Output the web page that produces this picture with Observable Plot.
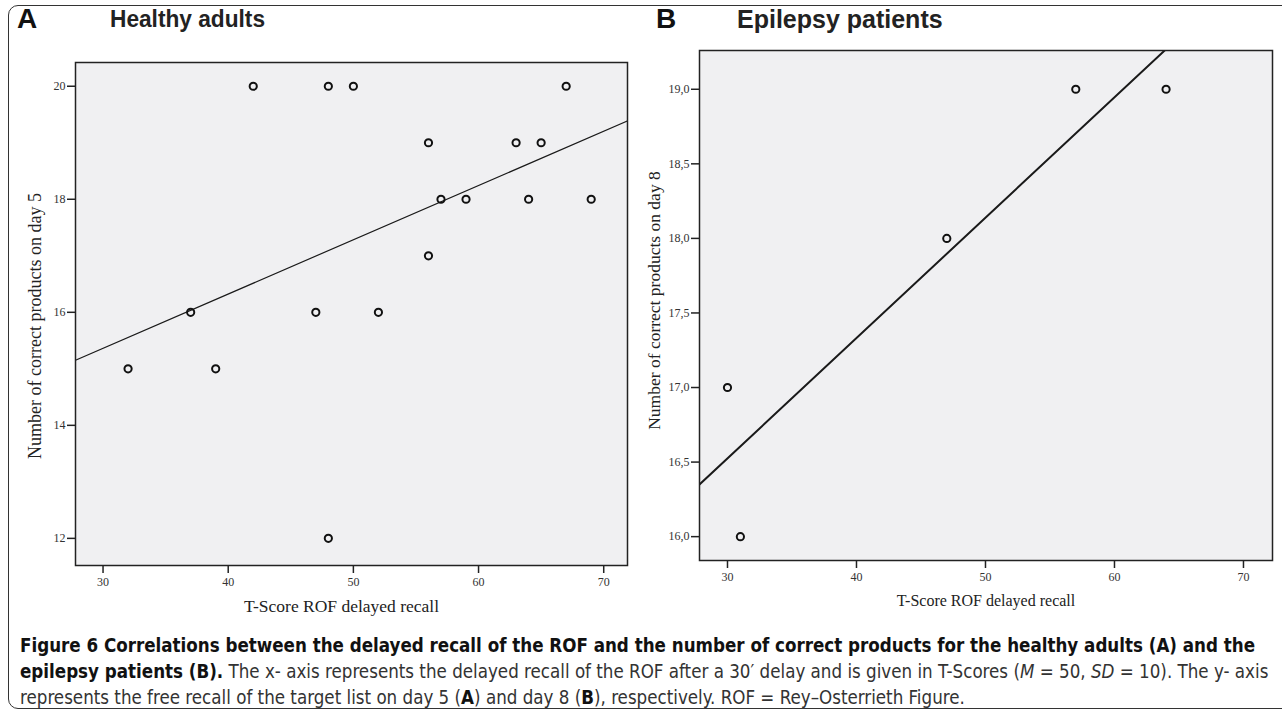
<!DOCTYPE html>
<html>
<head>
<meta charset="utf-8">
<script src="https://cdn.jsdelivr.net/npm/d3@7"></script>
<script src="https://cdn.jsdelivr.net/npm/@observablehq/plot@0.6"></script>
<style>
  html, body { margin: 0; padding: 0; background: #fff; }
  #fig { position: relative; width: 1282px; height: 713px; overflow: hidden; }
  #border { position: absolute; left: 8px; top: 5px; width: 1300px; height: 704px; border: 1.5px solid #333; border-radius: 10px; box-sizing: border-box; }
  .panel { position: absolute; top: 0; }
  .letter { position: absolute; font-family: "Liberation Sans", Arial, sans-serif; font-weight: bold; font-size: 28px; line-height: 28px; color: #111; }
  .ptitle { position: absolute; font-family: "Liberation Sans", Arial, sans-serif; font-weight: bold; font-size: 24px; line-height: 24px; color: #222; transform-origin: left center; white-space: nowrap; }
  #caption { position: absolute; left: 20px; top: 633px; font-family: "Liberation Sans Narrow", "DejaVu Sans Condensed", sans-serif; font-size: 18.6px; line-height: 26px; color: #333; white-space: nowrap; }
  #caption b { color: #111; }
</style>
</head>
<body>
<div id="fig">
  <div id="border"></div>
  <div class="panel" id="pA" style="left:0px"></div>
  <div class="panel" id="pB" style="left:640px"></div>
  <div class="letter" style="left:17px; top:5px">A</div>
  <div class="ptitle" style="left:110px; top:7px; transform: scaleX(0.945)">Healthy adults</div>
  <div class="letter" style="left:656px; top:5px">B</div>
  <div class="ptitle" style="left:737px; top:7px; font-size:25px; line-height:25px">Epilepsy patients</div>
  <div id="caption">
    <div><b>Figure 6 Correlations between the delayed recall of the ROF and the number of correct products for the healthy adults (A) and the</b></div>
    <div><b>epilepsy patients (B).</b> The x- axis represents the delayed recall of the ROF after a 30′ delay and is given in T-Scores (<i>M</i> = 50, <i>SD</i> = 10). The y- axis</div>
    <div>represents the free recall of the target list on day 5 (<b>A</b>) and day 8 (<b>B</b>), respectively. ROF = Rey–Osterrieth Figure.</div>
  </div>
</div>
<script>
// Panel A: healthy adults
const xA = [32, 37, 39, 42, 47, 48, 48, 50, 52, 56, 56, 57, 59, 63, 64, 65, 67, 69];
const yA = [15, 16, 15, 20, 16, 20, 12, 20, 16, 19, 17, 18, 18, 19, 18, 19, 20, 18];
const xTicks = [30, 40, 50, 60, 70];
const yTicksA = [12, 14, 16, 18, 20];
// Panel B: epilepsy patients
const xB = [30, 31, 47, 57, 64];
const yB = [17, 16, 18, 19, 19];
const yTicksB = [16.0, 16.5, 17.0, 17.5, 18.0, 18.5, 19.0];

const xLabel = "T-Score ROF delayed recall";
const yLabelA = "Number of correct products on day 5";
const yLabelB = "Number of correct products on day 8";

function regLine(xs, ys, domain) {
  const mx = d3.mean(xs), my = d3.mean(ys);
  const sxy = d3.sum(xs, (x, i) => (x - mx) * (ys[i] - my));
  const sxx = d3.sum(xs, x => (x - mx) ** 2);
  const b = sxy / sxx, a = my - b * mx;
  return domain.map(x => ({x, y: a + b * x}));
}

function panel(o) {
  const data = o.xs.map((x, i) => ({x, y: o.ys[i]}));
  const line = regLine(o.xs, o.ys, o.xDomain);
  return Plot.plot({
    width: o.width, height: 640,
    marginLeft: o.marginLeft, marginRight: o.marginRight, marginTop: o.marginTop, marginBottom: o.marginBottom,
    x: {domain: o.xDomain},
    y: {domain: o.yDomain},
    style: {fontFamily: "'Liberation Serif', 'Times New Roman', serif", fontSize: "12px", color: "#333", background: "transparent", overflow: "visible"},
    marks: [
      Plot.frame({fill: "#f0f0f2", stroke: null}),
      Plot.line(line, {x: "x", y: "y", stroke: "#1a1a1a", strokeWidth: o.lineWidth, clip: true}),
      Plot.dot(data, {x: "x", y: "y", r: 3.6, stroke: "#111", strokeWidth: 2, fill: "none"}),
      Plot.frame({stroke: "#222", strokeWidth: 1.5}),
      Plot.axisX({ticks: xTicks, tickSize: 8, tickPadding: 4, stroke: "#222", strokeWidth: 1.5, label: null, fill: "#333"}),
      Plot.axisY({ticks: o.yTicks, tickSize: 8, tickPadding: 2, tickFormat: o.yFormat, stroke: "#222", strokeWidth: 1.5, label: null, fill: "#333"}),
      Plot.text([xLabel], {frameAnchor: "bottom", dx: o.xLabelDx, dy: o.xLabelDy, fontSize: o.xLabelSize, fill: "#222"}),
      Plot.text([o.yLabel], {frameAnchor: "left", textAnchor: "middle", dx: o.yLabelDx, dy: o.yLabelDy, rotate: -90, fontSize: o.yLabelSize, fill: "#222"})
    ]
  });
}

document.getElementById("pA").appendChild(panel({
  xs: xA, ys: yA, xDomain: [27.8, 71.9], yDomain: [11.52, 20.42], yTicks: yTicksA,
  yFormat: d => String(d), yLabel: yLabelA, width: 640, marginLeft: 75, marginRight: 13, marginTop: 62, marginBottom: 75,
  yLabelDx: -40, yLabelDy: 12, yLabelSize: 18, xLabelDx: -10, xLabelDy: 46, xLabelSize: 17.5, lineWidth: 1.2
}));
document.getElementById("pB").appendChild(panel({
  xs: xB, ys: yB, xDomain: [27.83, 72.25], yDomain: [15.84, 19.26], yTicks: yTicksB,
  yFormat: d => d.toFixed(1).replace(".", ","), yLabel: yLabelB, width: 642, marginLeft: 59, marginRight: 10, marginTop: 50, marginBottom: 80,
  yLabelDx: -45, yLabelDy: -5, yLabelSize: 17.5, xLabelDx: 0, xLabelDy: 45, xLabelSize: 16, lineWidth: 2
}));
</script>
</body>
</html>
